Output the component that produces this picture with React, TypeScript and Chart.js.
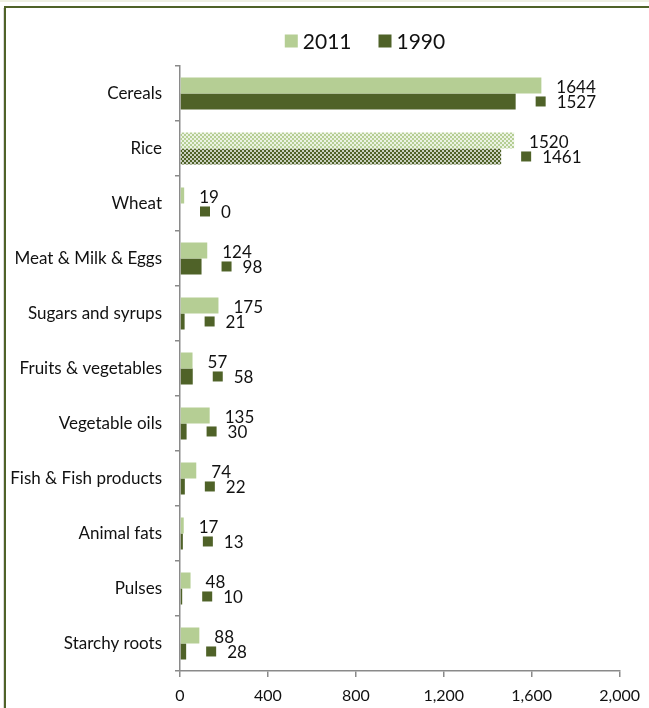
import React, { useEffect, useRef } from "react";
import { Chart, registerables } from "chart.js";

Chart.register(...registerables);

const categories = [
  "Cereals",
  "Rice",
  "Wheat",
  "Meat & Milk & Eggs",
  "Sugars and syrups",
  "Fruits & vegetables",
  "Vegetable oils",
  "Fish & Fish products",
  "Animal fats",
  "Pulses",
  "Starchy roots",
];
const values2011 = [1644, 1520, 19, 124, 175, 57, 135, 74, 17, 48, 88];
const values1990 = [1527, 1461, 0, 98, 21, 58, 30, 22, 13, 10, 28];
const seriesLabels = ["2011", "1990"];
const xTickValues = [0, 400, 800, 1200, 1600, 2000];
const patternedCategory = "Rice";

const LIGHT = "#b5ce94";
const DARK = "#4f6228";
const AXIS = "#8a8a8a";
const TEXT = "#111111";
const FONT = "Lato, 'Open Sans', sans-serif";

function makePattern(color: string, dot: string): CanvasPattern | string {
  const c = document.createElement("canvas");
  c.width = 4;
  c.height = 4;
  const g = c.getContext("2d");
  if (!g) return color;
  g.fillStyle = color;
  g.fillRect(0, 0, 4, 4);
  g.fillStyle = dot;
  g.fillRect(0, 0, 2, 2);
  g.fillRect(2, 2, 2, 2);
  return g.createPattern(c, "repeat") || color;
}

const legendPlugin = {
  id: "customLegend",
  afterDraw(chart: any) {
    const ctx = chart.ctx as CanvasRenderingContext2D;
    const colors = [LIGHT, DARK];
    const box = 13;
    const gap = 5;
    const spacing = 27;
    const centerX = 365;
    const centerY = 41;
    ctx.save();
    ctx.font = `21px ${FONT}`;
    ctx.textBaseline = "middle";
    ctx.textAlign = "left";
    const widths = seriesLabels.map((t) => ctx.measureText(t).width);
    const total =
      widths.reduce((a, b) => a + b + box + gap, 0) + spacing * (seriesLabels.length - 1);
    let x = centerX - total / 2;
    seriesLabels.forEach((t, i) => {
      ctx.fillStyle = colors[i];
      ctx.fillRect(x, centerY - box / 2, box, box);
      x += box + gap;
      ctx.fillStyle = TEXT;
      ctx.fillText(t, x, centerY + 1);
      x += widths[i] + spacing;
    });
    ctx.restore();
  },
};

const labelPlugin = {
  id: "valueLabels",
  afterDatasetsDraw(chart: any) {
    const ctx = chart.ctx as CanvasRenderingContext2D;
    ctx.save();
    ctx.font = `17px ${FONT}`;
    ctx.textBaseline = "middle";
    ctx.textAlign = "left";
    chart.data.datasets.forEach((ds: any, di: number) => {
      const meta = chart.getDatasetMeta(di);
      meta.data.forEach((bar: any, i: number) => {
        const v = ds.data[i];
        const x = bar.x;
        const y = bar.y;
        if (di === 0) {
          ctx.fillStyle = TEXT;
          ctx.fillText(String(v), x + 15, y + 2);
        } else {
          ctx.fillStyle = DARK;
          ctx.fillRect(x + 20, y - 5, 10, 10);
          ctx.fillStyle = TEXT;
          ctx.fillText(String(v), x + 41, y + 1);
        }
      });
    });
    ctx.restore();
  },
};

export default function App() {
  const ref = useRef<HTMLCanvasElement | null>(null);

  useEffect(() => {
    document.body.style.margin = "0";
    const canvas = ref.current;
    if (!canvas) return;
    const light = makePattern(LIGHT, "rgba(255,255,255,0.75)");
    const dark = makePattern(DARK, "rgba(255,255,255,0.7)");
    const bg2011 = categories.map((c) => (c === patternedCategory ? light : LIGHT));
    const bg1990 = categories.map((c) => (c === patternedCategory ? dark : DARK));

    const chart = new Chart(canvas, {
      type: "bar",
      data: {
        labels: categories,
        datasets: [
          {
            label: seriesLabels[0],
            data: values2011,
            backgroundColor: bg2011 as any,
            categoryPercentage: 0.58,
            barPercentage: 1,
          },
          {
            label: seriesLabels[1],
            data: values1990,
            backgroundColor: bg1990 as any,
            categoryPercentage: 0.58,
            barPercentage: 1,
          },
        ],
      },
      options: {
        indexAxis: "y",
        responsive: false,
        animation: false,
        devicePixelRatio: 1,
        layout: { padding: { top: 66, right: 27, bottom: 0, left: 0 } },
        plugins: {
          legend: { display: false },
          tooltip: { enabled: false },
        },
        scales: {
          x: {
            type: "linear",
            position: "bottom",
            min: xTickValues[0],
            max: xTickValues[xTickValues.length - 1],
            afterBuildTicks: (scale: any) => {
              scale.ticks = xTickValues.map((v) => ({ value: v }));
            },
            afterFit: (scale: any) => {
              scale.height = 37;
            },
            ticks: {
              color: TEXT,
              font: { family: FONT, size: 16 },
              padding: 9,
              callback: (v: any) => Number(v).toLocaleString("en-US"),
            },
            grid: {
              drawOnChartArea: false,
              drawTicks: true,
              tickLength: 6,
              color: AXIS,
              lineWidth: 1.5,
            },
            border: { display: true, color: AXIS, width: 1.5 },
          },
          y: {
            type: "category",
            afterFit: (scale: any) => {
              scale.width = 180;
            },
            ticks: {
              color: TEXT,
              font: { family: FONT, size: 17 },
              padding: 13,
            },
            grid: {
              drawOnChartArea: false,
              drawTicks: true,
              tickLength: 5,
              color: AXIS,
              lineWidth: 1.5,
              offset: true,
            },
            border: { display: true, color: AXIS, width: 1.5 },
          },
        },
      },
      plugins: [legendPlugin, labelPlugin],
    });
    return () => chart.destroy();
  }, []);

  return (
    <div
      style={{
        width: 649,
        height: 708,
        position: "relative",
        overflow: "hidden",
        background: "#ffffff",
      }}
    >
      <div
        style={{
          position: "absolute",
          left: 0,
          top: 0,
          width: 649,
          height: 2,
          background: "#eef0e2",
        }}
      />
      <div
        style={{
          position: "absolute",
          left: 3,
          top: 8,
          width: 1,
          height: 700,
          background: "#d9d9d9",
        }}
      />
      <div
        style={{
          position: "absolute",
          left: 4,
          top: 6,
          width: 700,
          height: 800,
          borderTop: `2px solid ${DARK}`,
          borderLeft: `2px solid ${DARK}`,
          boxSizing: "border-box",
        }}
      />
      <canvas
        ref={ref}
        width={649}
        height={708}
        style={{ display: "block", position: "absolute", left: 0, top: 0 }}
      />
    </div>
  );
}
